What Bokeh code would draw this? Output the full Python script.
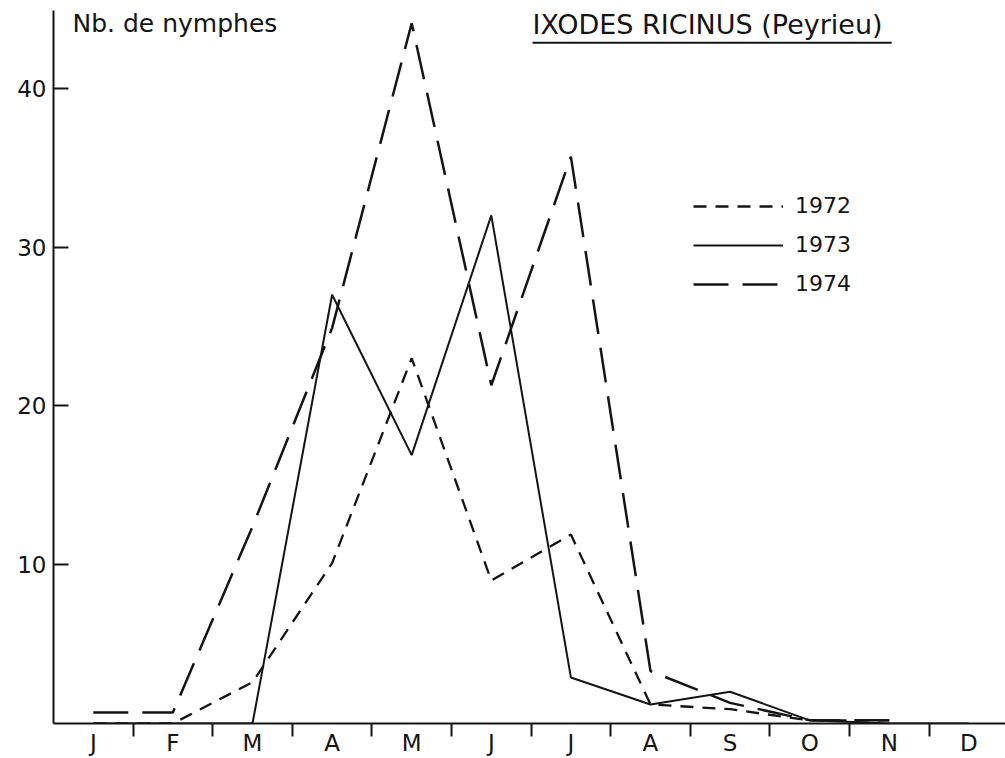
import math
from bokeh.plotting import figure
from bokeh.models import (Range1d, FixedTicker, Label, Legend, LegendItem,
                          BoxAnnotation)
from bokeh.embed import file_html
from bokeh.resources import INLINE

# ---- data ----
months = ["J", "F", "M", "A", "M", "J", "J", "A", "S", "O", "N", "D"]
y_ticks = [10, 20, 30, 40]
nan = float("nan")
v1972 = [0, 0, 2.6, 10.1, 23.0, 9.0, 11.9, 1.2, 0.9, 0.2, 0.2, nan]
v1973 = [0, 0, 0, 27.0, 16.9, 32.0, 2.9, 1.2, 2.0, 0.2, 0, 0]
v1974 = [0.7, 0.7, 12.4, 24.9, 44.1, 21.3, 35.7, 3.3, 1.3, 0.2, 0.2, nan]
years = ["1972", "1973", "1974"]
title_text = "IXODES RICINUS (Peyrieu)"
ylabel_text = "Nb. de nymphes"

x = list(range(len(months)))              # month centres
bounds = [i + 0.5 for i in range(len(months) - 1)]  # month separators

FONT = "DejaVu Sans"
INK = "#141414"

p = figure(width=1005, height=758, output_backend="svg", toolbar_location=None,
           x_range=Range1d(-0.5, 11.46), y_range=Range1d(0, 44.9),
           min_border_left=53, min_border_right=0, min_border_top=10,
           min_border_bottom=0)
p.outline_line_color = None
p.grid.visible = False
p.background_fill_color = "white"
p.border_fill_color = "white"

# x axis: labels at month centres, separator ticks between months
xa = p.xaxis[0]
xa.ticker = FixedTicker(ticks=x, minor_ticks=bounds)
xa.major_label_overrides = {i: m for i, m in zip(x, months)}
xa.major_tick_in = 0
xa.major_tick_out = 0
xa.minor_tick_in = 0
xa.minor_tick_out = 13
xa.minor_tick_line_width = 2
xa.minor_tick_line_color = INK
xa.axis_line_width = 2
xa.axis_line_color = INK
xa.major_label_standoff = -7
xa.major_label_text_font = FONT
xa.major_label_text_font_size = "23px"
xa.major_label_text_color = INK

# y axis: inward ticks
ya = p.yaxis[0]
ya.ticker = FixedTicker(ticks=y_ticks)
ya.major_tick_in = 15
ya.major_tick_out = 0
ya.minor_tick_in = 0
ya.minor_tick_out = 0
ya.major_tick_line_width = 2
ya.major_tick_line_color = INK
ya.axis_line_width = 2
ya.axis_line_color = INK
ya.major_label_standoff = 7
ya.major_label_text_font = FONT
ya.major_label_text_font_size = "23px"
ya.major_label_text_color = INK

r72 = p.line(x, v1972, line_dash="13 9", line_width=2.3, line_color=INK)
r73 = p.line(x, v1973, line_width=2.0, line_color=INK)
r74 = p.line(x, v1974, line_dash="35 14", line_width=2.5, line_color=INK)

legend = Legend(items=[LegendItem(label=years[0], renderers=[r72]),
                       LegendItem(label=years[1], renderers=[r73]),
                       LegendItem(label=years[2], renderers=[r74])],
                location=(640, 427))
legend.glyph_width = 90
legend.glyph_height = 20
legend.label_height = 20
legend.spacing = 14
legend.padding = 0
legend.margin = 0
legend.label_standoff = 12
legend.border_line_color = None
legend.background_fill_alpha = 0
legend.label_text_font = FONT
legend.label_text_font_size = "22px"
legend.label_text_color = INK
p.add_layout(legend)

p.add_layout(Label(x=-0.261, y=44.09, text=ylabel_text, text_font=FONT,
                   text_font_size="25px", text_color=INK,
                   text_align="left", text_baseline="alphabetic"))
p.add_layout(Label(x=5.518, y=44.0, text=title_text, text_font=FONT,
                   text_font_size="27px", text_color=INK,
                   text_align="left", text_baseline="alphabetic"))
p.add_layout(BoxAnnotation(left=5.518, right=10.03, bottom=42.80, top=42.93,
                           fill_color=INK, fill_alpha=1, line_alpha=0))

open("out.html", "w").write(file_html(p, INLINE))
